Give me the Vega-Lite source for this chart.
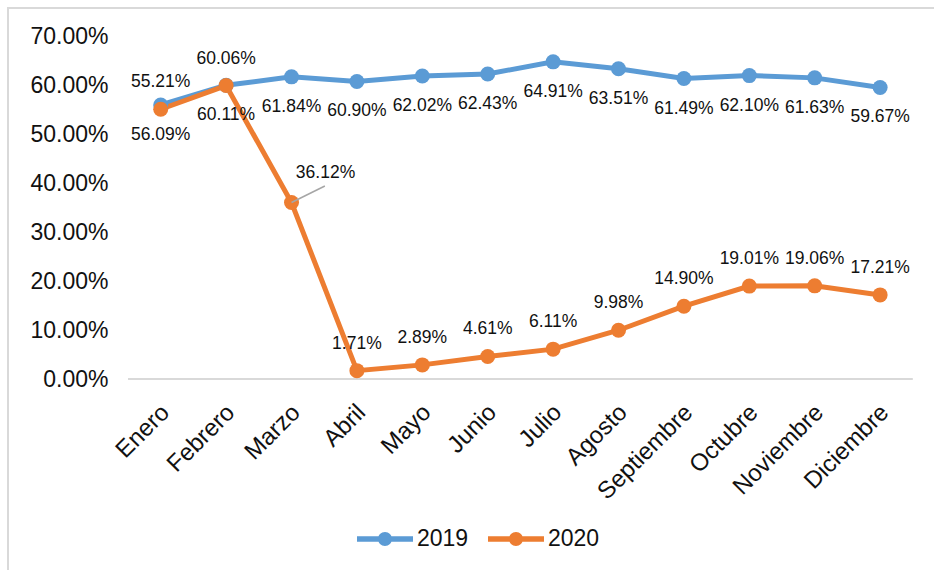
{
  "$schema": "https://vega.github.io/schema/vega-lite/v6.json",
  "width": 926,
  "height": 562,
  "autosize": {"type": "none"},
  "padding": {"left": 8, "top": 8, "right": 0, "bottom": 0},
  "background": "white",
  "config": {
    "font": "Liberation Sans",
    "view": {"stroke": "#d9d9d9", "strokeWidth": 2, "strokeDash": [926, 1488, 600]}
  },
  "data": {
    "values": [
      {"mes": "Enero", "m": 1, "anio": "2019", "valor": 0.5609},
      {"mes": "Febrero", "m": 2, "anio": "2019", "valor": 0.6011},
      {"mes": "Marzo", "m": 3, "anio": "2019", "valor": 0.6184},
      {"mes": "Abril", "m": 4, "anio": "2019", "valor": 0.6090},
      {"mes": "Mayo", "m": 5, "anio": "2019", "valor": 0.6202},
      {"mes": "Junio", "m": 6, "anio": "2019", "valor": 0.6243},
      {"mes": "Julio", "m": 7, "anio": "2019", "valor": 0.6491},
      {"mes": "Agosto", "m": 8, "anio": "2019", "valor": 0.6351},
      {"mes": "Septiembre", "m": 9, "anio": "2019", "valor": 0.6149},
      {"mes": "Octubre", "m": 10, "anio": "2019", "valor": 0.6210},
      {"mes": "Noviembre", "m": 11, "anio": "2019", "valor": 0.6163},
      {"mes": "Diciembre", "m": 12, "anio": "2019", "valor": 0.5967},
      {"mes": "Enero", "m": 1, "anio": "2020", "valor": 0.5521},
      {"mes": "Febrero", "m": 2, "anio": "2020", "valor": 0.6006},
      {"mes": "Marzo", "m": 3, "anio": "2020", "valor": 0.3612},
      {"mes": "Abril", "m": 4, "anio": "2020", "valor": 0.0171},
      {"mes": "Mayo", "m": 5, "anio": "2020", "valor": 0.0289},
      {"mes": "Junio", "m": 6, "anio": "2020", "valor": 0.0461},
      {"mes": "Julio", "m": 7, "anio": "2020", "valor": 0.0611},
      {"mes": "Agosto", "m": 8, "anio": "2020", "valor": 0.0998},
      {"mes": "Septiembre", "m": 9, "anio": "2020", "valor": 0.1490},
      {"mes": "Octubre", "m": 10, "anio": "2020", "valor": 0.1901},
      {"mes": "Noviembre", "m": 11, "anio": "2020", "valor": 0.1906},
      {"mes": "Diciembre", "m": 12, "anio": "2020", "valor": 0.1721}
    ]
  },
  "encoding": {
    "x": {
      "field": "m",
      "type": "quantitative",
      "scale": {"domain": [-1.335, 12.824], "nice": false, "zero": false},
      "axis": {
        "orient": "bottom",
        "offset": -191,
        "values": [1, 2, 3, 4, 5, 6, 7, 8, 9, 10, 11, 12],
        "labelExpr": "['Enero','Febrero','Marzo','Abril','Mayo','Junio','Julio','Agosto','Septiembre','Octubre','Noviembre','Diciembre'][datum.value - 1]",
        "labelAngle": -45,
        "labelAlign": "right",
        "labelBaseline": "top",
        "labelPadding": 21,
        "labelOffset": -4,
        "labelOverlap": false,
        "labelFlush": false,
        "labelBound": false,
        "labelFontSize": 24,
        "labelColor": "#111111",
        "domain": false,
        "ticks": false,
        "grid": false,
        "title": null
      }
    },
    "y": {
      "field": "valor",
      "type": "quantitative",
      "scale": {"domain": [-0.3909, 0.7593], "nice": false, "zero": false},
      "axis": {
        "orient": "left",
        "offset": -100,
        "values": [0, 0.1, 0.2, 0.3, 0.4, 0.5, 0.6, 0.7],
        "format": ".2%",
        "labelPadding": 0,
        "tickSize": 0,
        "ticks": false,
        "domain": false,
        "grid": false,
        "labelFontSize": 23,
        "labelColor": "#111111",
        "title": null
      }
    }
  },
  "layer": [
    {
      "data": {"values": [{"a": 0.5, "b": 12.5, "base": 0}]},
      "mark": {"type": "rule", "color": "#d9d9d9", "strokeWidth": 2},
      "encoding": {
        "x": {"field": "a", "type": "quantitative"},
        "x2": {"field": "b"},
        "y": {"field": "base", "type": "quantitative"}
      }
    },
    {
      "mark": {"type": "line", "strokeWidth": 5},
      "encoding": {
        "color": {
          "field": "anio",
          "type": "nominal",
          "scale": {"domain": ["2019", "2020"], "range": ["#5B9BD5", "#ED7D31"]},
          "legend": {
            "orient": "none",
            "legendX": 349,
            "legendY": 517,
            "direction": "horizontal",
            "title": null,
            "symbolType": "M-2,-0.2H2V0.2H-2Z M-0.5,0A0.5,0.5 0 1,1 0.5,0A0.5,0.5 0 1,1 -0.5,0Z",
            "symbolSize": 784,
            "symbolOffset": 14,
            "labelOffset": 18,
            "labelFontSize": 23,
            "labelColor": "#111111",
            "columnPadding": 19,
            "encode": {
              "symbols": {
                "update": {
                  "fill": {"scale": "color", "field": "value"},
                  "strokeWidth": {"value": 0},
                  "opacity": {"value": 1}
                }
              }
            }
          }
        }
      }
    },
    {
      "mark": {"type": "point", "filled": true, "size": 225, "opacity": 1},
      "encoding": {
        "color": {"field": "anio", "type": "nominal"}
      }
    },
    {
      "transform": [{"filter": "datum.anio == '2019'"}],
      "mark": {"type": "text", "dy": 30, "fontSize": 17.5, "color": "#111111"},
      "encoding": {"text": {"field": "valor", "type": "quantitative", "format": ".2%"}}
    },
    {
      "transform": [{"filter": "datum.anio == '2020' && datum.mes != 'Marzo'"}],
      "mark": {"type": "text", "dy": -27, "fontSize": 17.5, "color": "#111111"},
      "encoding": {"text": {"field": "valor", "type": "quantitative", "format": ".2%"}}
    },
    {
      "data": {"values": [{"a": 3, "b": 3.51, "ya": 0.3612, "yb": 0.395}]},
      "mark": {"type": "rule", "color": "#a6a6a6", "strokeWidth": 1.5},
      "encoding": {
        "x": {"field": "a", "type": "quantitative"},
        "x2": {"field": "b"},
        "y": {"field": "ya", "type": "quantitative"},
        "y2": {"field": "yb"}
      }
    },
    {
      "transform": [{"filter": "datum.anio == '2020' && datum.mes == 'Marzo'"}],
      "mark": {"type": "text", "dx": 34, "dy": -30, "fontSize": 17.5, "color": "#111111"},
      "encoding": {"text": {"field": "valor", "type": "quantitative", "format": ".2%"}}
    }
  ]
}
